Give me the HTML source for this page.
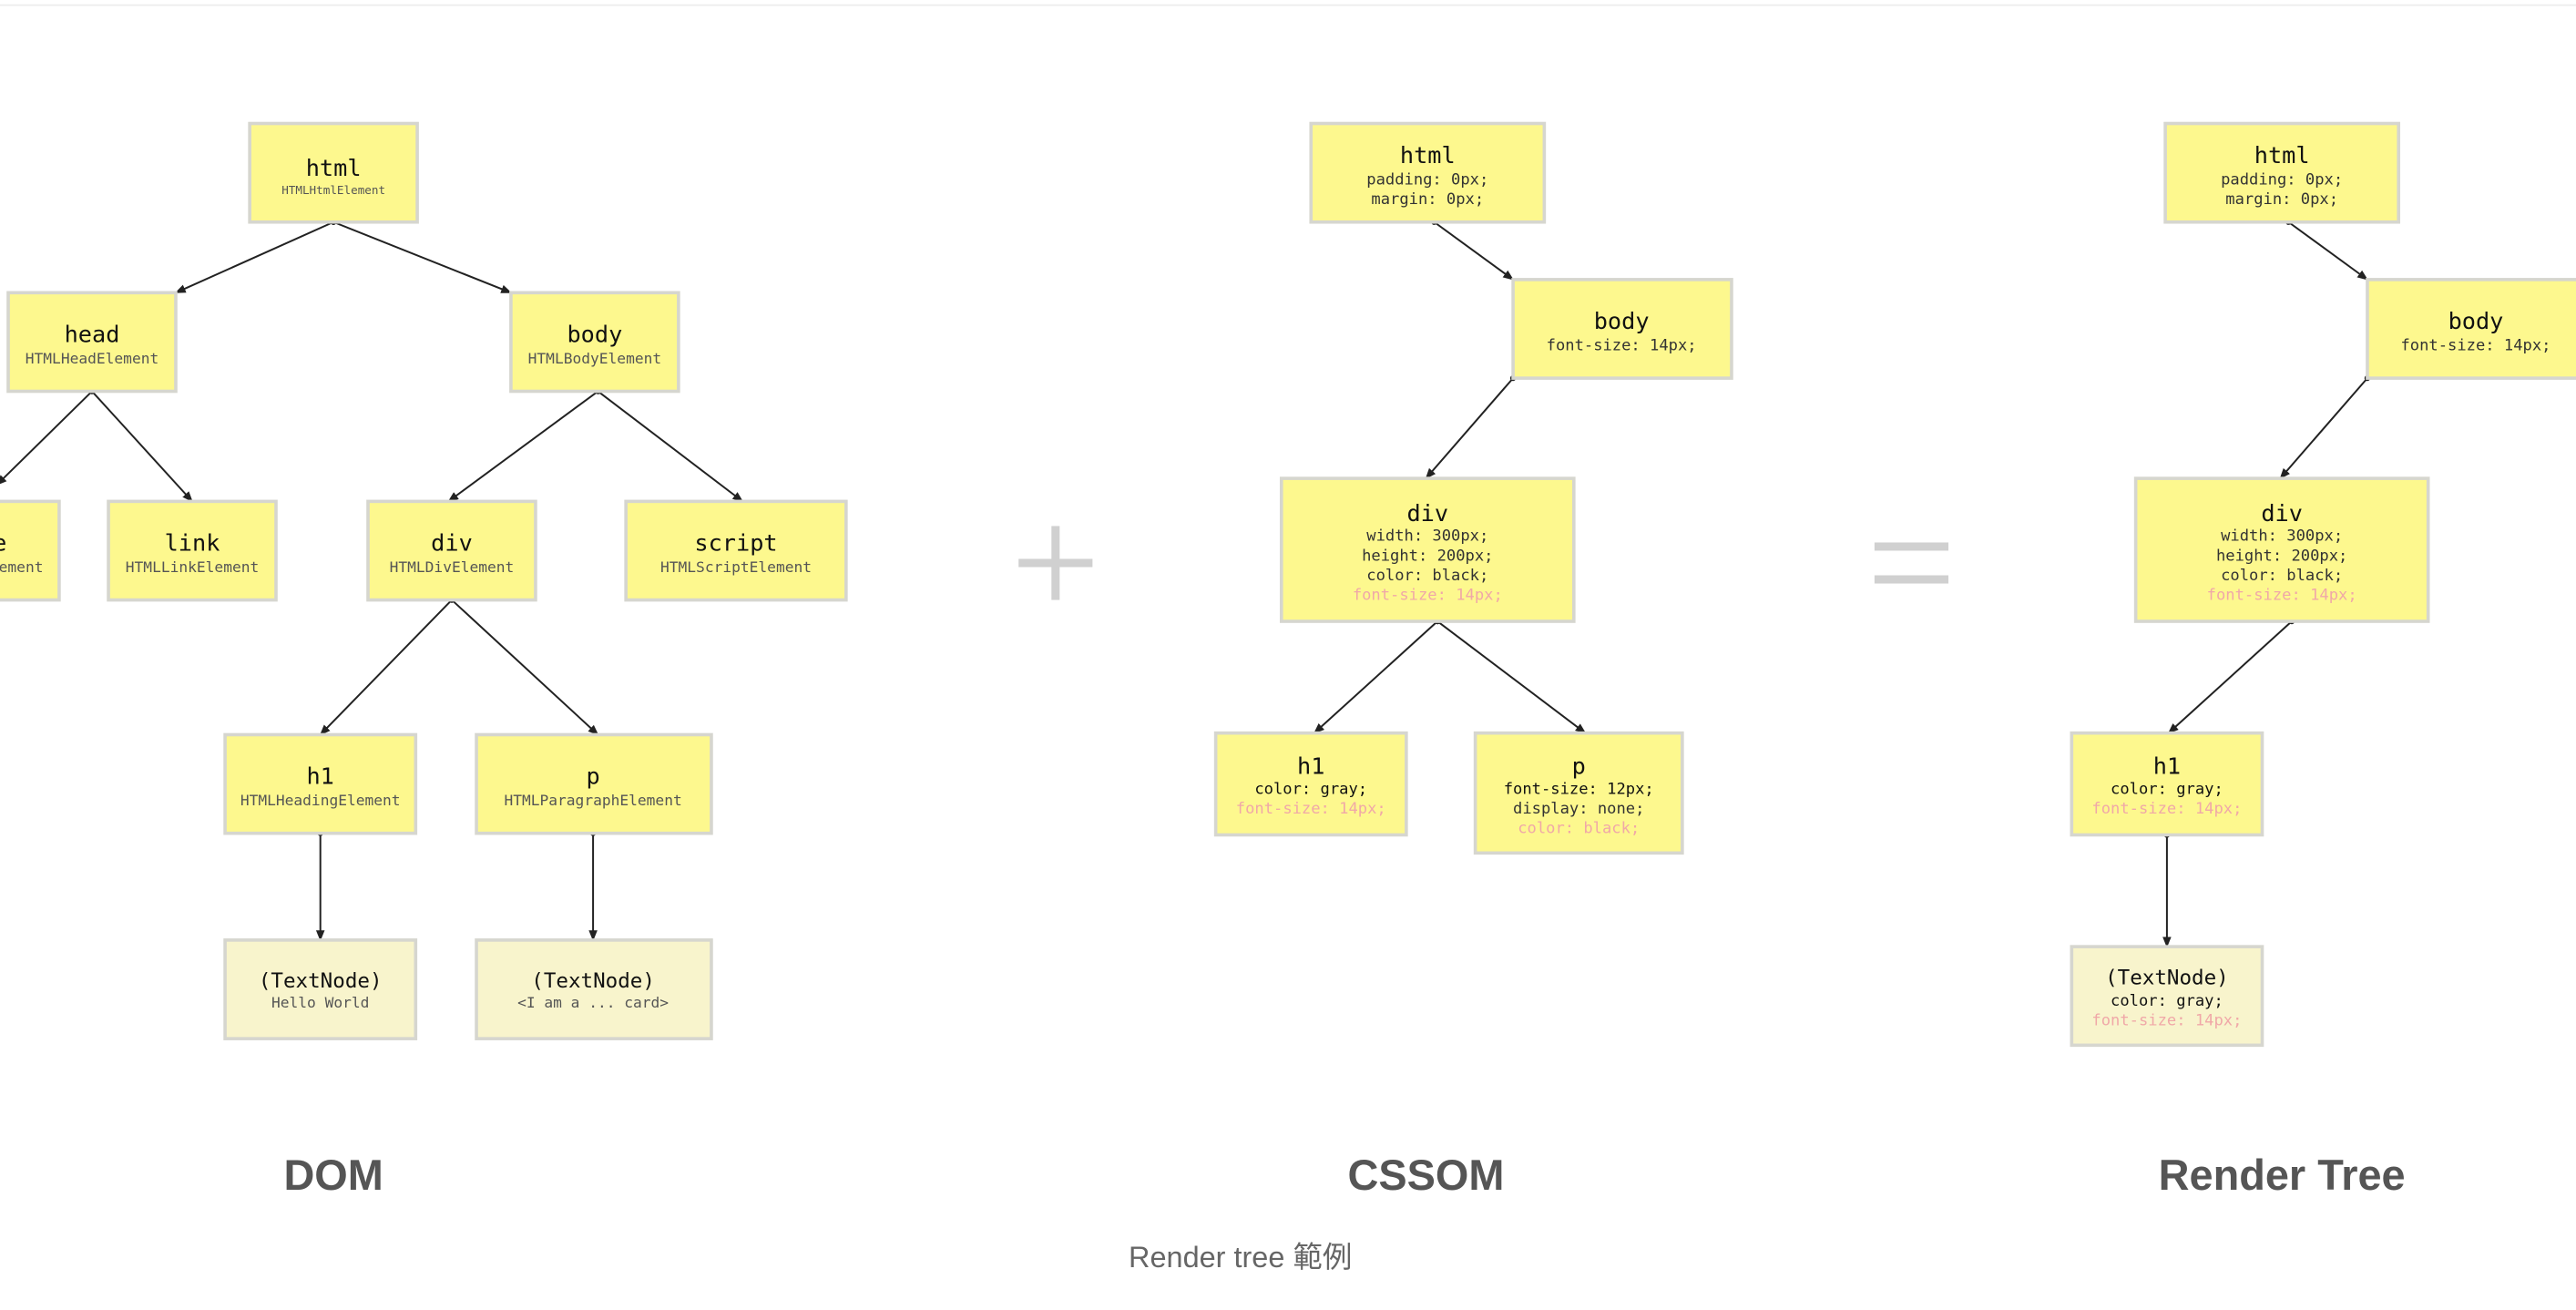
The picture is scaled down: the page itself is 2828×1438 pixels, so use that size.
<!DOCTYPE html>
<html><head><meta charset="utf-8"><style>
html,body{margin:0;padding:0;background:#fff;width:2828px;height:1438px;overflow:hidden}
svg{display:block}
.b{fill:#fdf88e;stroke:#d6d6cf;stroke-width:2}
.t{fill:#f8f4cc;stroke:#d6d6cf;stroke-width:2}
.ti{font-family:"DejaVu Sans Mono","Liberation Mono",monospace;font-size:14px;fill:#111;text-anchor:middle}
.s{font-family:"DejaVu Sans Mono","Liberation Mono",monospace;font-size:9px;fill:#555;text-anchor:middle}
.c{font-family:"DejaVu Sans Mono","Liberation Mono",monospace;font-size:9.5px;fill:#333;text-anchor:middle}
.k{fill:#111}
.pk{fill:#f0a8a8}
.l{stroke:#222;stroke-width:1.1;fill:none;marker-end:url(#a);marker-start:url(#d)}
.big{font-family:"Liberation Sans",sans-serif;font-weight:bold;font-size:26px;fill:#555;text-anchor:middle}
</style></head><body>
<svg width="2828" height="1438" viewBox="0 0 1568 797" xmlns="http://www.w3.org/2000/svg">
<defs>
<marker id="a" viewBox="0 0 10 10" refX="9" refY="5" markerWidth="6" markerHeight="6" orient="auto"><path d="M0,1 L10,5 L0,9 z" fill="#222"/></marker>
<marker id="d" viewBox="0 0 10 10" refX="5" refY="5" markerWidth="4" markerHeight="4" orient="auto"><circle cx="5" cy="5" r="4" fill="#222"/></marker>
</defs>
<line x1="0" y1="3" x2="1568" y2="3" stroke="#eee" stroke-width="1"/>

<!-- DOM -->
<line class="l" x1="203" y1="135" x2="107" y2="178"/>
<line class="l" x1="203" y1="135" x2="311" y2="178"/>
<line class="l" x1="56" y1="238" x2="-2" y2="295"/>
<line class="l" x1="56" y1="238" x2="117" y2="305"/>
<line class="l" x1="364" y1="238" x2="273" y2="305"/>
<line class="l" x1="364" y1="238" x2="452" y2="305"/>
<line class="l" x1="275" y1="365" x2="195" y2="447"/>
<line class="l" x1="275" y1="365" x2="364" y2="447"/>
<line class="l" x1="195" y1="507" x2="195" y2="572"/>
<line class="l" x1="361" y1="507" x2="361" y2="572"/>

<rect class="b" x="152" y="75" width="102" height="60"/>
<text class="ti" x="203" y="107">html</text><text class="s" x="203" y="118" style="font-size:7px">HTMLHtmlElement</text>
<rect class="b" x="5" y="178" width="102" height="60"/>
<text class="ti" x="56" y="208">head</text><text class="s" x="56" y="221">HTMLHeadElement</text>
<rect class="b" x="311" y="178" width="102" height="60"/>
<text class="ti" x="362" y="208">body</text><text class="s" x="362" y="221">HTMLBodyElement</text>
<rect class="b" x="-70" y="305" width="106" height="60"/>
<text class="ti" x="-17" y="335">style</text><text class="s" x="-17" y="348">HTMLStyleElement</text>
<rect class="b" x="66" y="305" width="102" height="60"/>
<text class="ti" x="117" y="335">link</text><text class="s" x="117" y="348">HTMLLinkElement</text>
<rect class="b" x="224" y="305" width="102" height="60"/>
<text class="ti" x="275" y="335">div</text><text class="s" x="275" y="348">HTMLDivElement</text>
<rect class="b" x="381" y="305" width="134" height="60"/>
<text class="ti" x="448" y="335">script</text><text class="s" x="448" y="348">HTMLScriptElement</text>
<rect class="b" x="137" y="447" width="116" height="60"/>
<text class="ti" x="195" y="477">h1</text><text class="s" x="195" y="490">HTMLHeadingElement</text>
<rect class="b" x="290" y="447" width="143" height="60"/>
<text class="ti" x="361" y="477">p</text><text class="s" x="361" y="490">HTMLParagraphElement</text>
<rect class="t" x="137" y="572" width="116" height="60"/>
<text class="ti" x="195" y="601" style="font-size:12.5px">(TextNode)</text><text class="s" x="195" y="613">Hello World</text>
<rect class="t" x="290" y="572" width="143" height="60"/>
<text class="ti" x="361" y="601" style="font-size:12.5px">(TextNode)</text><text class="s" x="361" y="613">&lt;I am a ... card&gt;</text>

<!-- plus / equals -->
<rect x="620" y="340" width="45" height="5" fill="#d0d0d0"/>
<rect x="640" y="320" width="5" height="45" fill="#d0d0d0"/>
<rect x="1141" y="330" width="45" height="5" fill="#d0d0d0"/>
<rect x="1141" y="350" width="45" height="5" fill="#d0d0d0"/>

<!-- CSSOM -->
<line class="l" x1="873" y1="135" x2="921" y2="170"/>
<line class="l" x1="921" y1="230" x2="868" y2="291"/>
<line class="l" x1="875" y1="378" x2="800" y2="446"/>
<line class="l" x1="875" y1="378" x2="965" y2="446"/>
<rect class="b" x="798" y="75" width="142" height="60"/>
<text class="ti" x="869" y="99">html</text><text class="c" x="869" y="112">padding: 0px;</text><text class="c" x="869" y="124">margin: 0px;</text>
<rect class="b" x="921" y="170" width="133" height="60"/>
<text class="ti" x="987" y="200">body</text><text class="c" x="987" y="213">font-size: 14px;</text>
<rect class="b" x="780" y="291" width="178" height="87"/>
<text class="ti" x="869" y="317">div</text><text class="c" x="869" y="329">width: 300px;</text><text class="c" x="869" y="341">height: 200px;</text><text class="c" x="869" y="353">color: black;</text><text class="c pk" x="869" y="365">font-size: 14px;</text>
<rect class="b" x="740" y="446" width="116" height="62"/>
<text class="ti" x="798" y="471">h1</text><text class="c k" x="798" y="483">color: gray;</text><text class="c pk" x="798" y="495">font-size: 14px;</text>
<rect class="b" x="898" y="446" width="126" height="73"/>
<text class="ti" x="961" y="471">p</text><text class="c k" x="961" y="483">font-size: 12px;</text><text class="c" x="961" y="495">display: none;</text><text class="c pk" x="961" y="507">color: black;</text>

<!-- Render tree -->
<line class="l" x1="1393" y1="135" x2="1441" y2="170"/>
<line class="l" x1="1441" y1="230" x2="1388" y2="291"/>
<line class="l" x1="1395" y1="378" x2="1320" y2="446"/>
<line class="l" x1="1319" y1="508" x2="1319" y2="576"/>
<rect class="b" x="1318" y="75" width="142" height="60"/>
<text class="ti" x="1389" y="99">html</text><text class="c" x="1389" y="112">padding: 0px;</text><text class="c" x="1389" y="124">margin: 0px;</text>
<rect class="b" x="1441" y="170" width="133" height="60"/>
<text class="ti" x="1507" y="200">body</text><text class="c" x="1507" y="213">font-size: 14px;</text>
<rect class="b" x="1300" y="291" width="178" height="87"/>
<text class="ti" x="1389" y="317">div</text><text class="c" x="1389" y="329">width: 300px;</text><text class="c" x="1389" y="341">height: 200px;</text><text class="c" x="1389" y="353">color: black;</text><text class="c pk" x="1389" y="365">font-size: 14px;</text>
<rect class="b" x="1261" y="446" width="116" height="62"/>
<text class="ti" x="1319" y="471">h1</text><text class="c k" x="1319" y="483">color: gray;</text><text class="c pk" x="1319" y="495">font-size: 14px;</text>
<rect class="t" x="1261" y="576" width="116" height="60"/>
<text class="ti" x="1319" y="599" style="font-size:12.5px">(TextNode)</text><text class="c k" x="1319" y="612">color: gray;</text><text class="c pk" x="1319" y="624">font-size: 14px;</text>

<text class="big" x="203" y="724">DOM</text>
<text class="big" x="868" y="724">CSSOM</text>
<text class="big" x="1389" y="724">Render Tree</text>
<text x="755" y="771" text-anchor="middle" style='font-family:"Liberation Sans","Noto Sans CJK TC",sans-serif;font-size:18px;fill:#666'>Render tree 範例</text>
</svg>
</body></html>
